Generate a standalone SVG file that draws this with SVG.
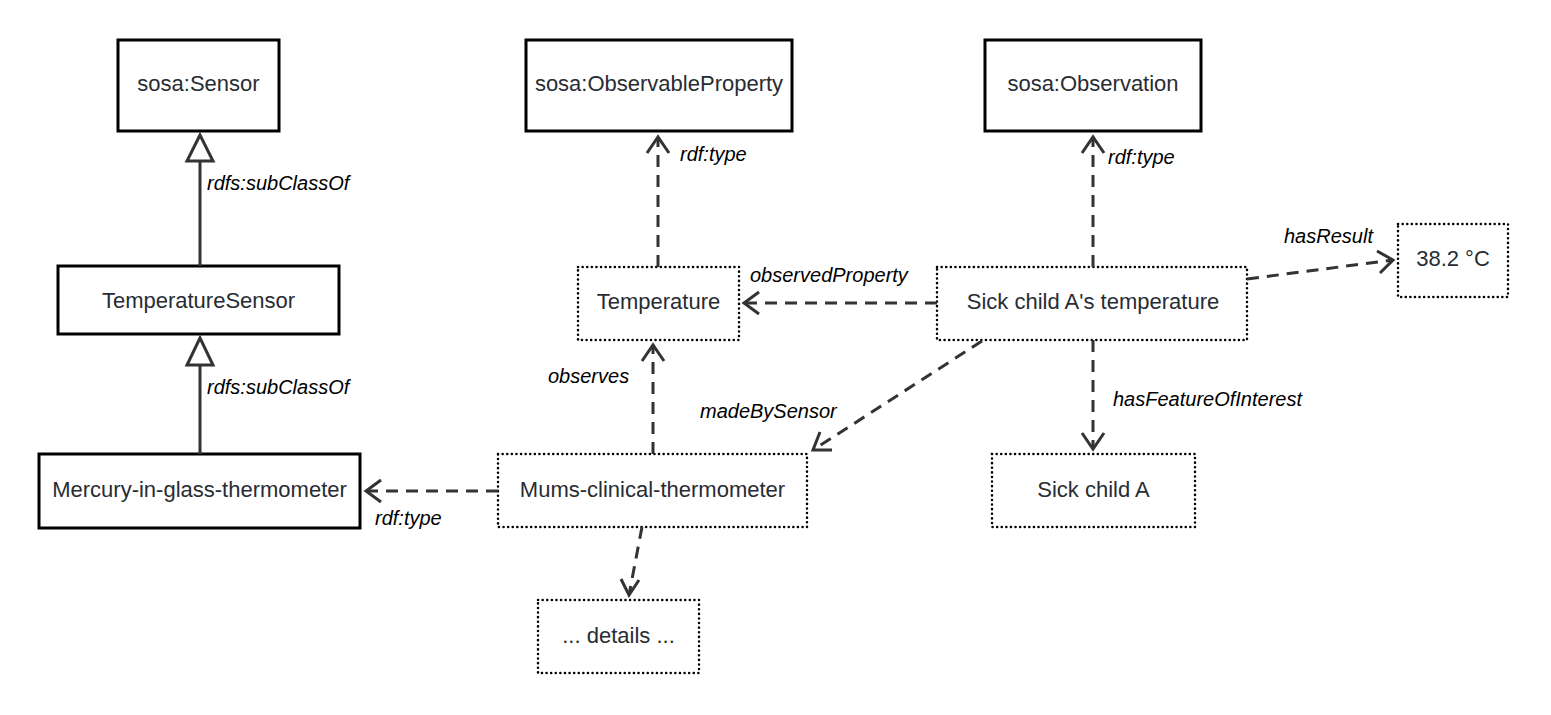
<svg xmlns="http://www.w3.org/2000/svg" width="1551" height="715" viewBox="0 0 1551 715">
<style>
.cls{fill:#fff;stroke:#000;stroke-width:3}
.ind{fill:#fff;stroke:#000;stroke-width:2.5;stroke-dasharray:0.1 4.5;stroke-linecap:round}
.t{font-family:"Liberation Sans",Arial,sans-serif;font-size:22px;fill:#282c33;text-anchor:middle;dominant-baseline:central}
.l{font-family:"Liberation Sans",Arial,sans-serif;font-size:20px;font-style:italic;fill:#000}
.sub{stroke:#333;stroke-width:3;fill:none}
.dash{stroke:#333;stroke-width:3;fill:none;stroke-dasharray:12 8}
.head{stroke:#333;stroke-width:3;fill:none}
.tri{stroke:#333;stroke-width:3;fill:#fff}
</style>
<g id="n-sensor"><rect class="cls" x="118" y="40" width="161" height="91"/><text class="t" x="198.5" y="83">sosa:Sensor</text></g>
<g id="n-tempsensor"><rect class="cls" x="58" y="266" width="281" height="68"/><text class="t" x="198.5" y="300">TemperatureSensor</text></g>
<g id="n-mercury"><rect class="cls" x="39" y="454" width="321" height="74"/><text class="t" x="199.5" y="489">Mercury-in-glass-thermometer</text></g>
<g id="n-obsprop"><rect class="cls" x="526" y="40" width="266" height="91"/><text class="t" x="659" y="83">sosa:ObservableProperty</text></g>
<g id="n-observation"><rect class="cls" x="985" y="40" width="216" height="91"/><text class="t" x="1093" y="83">sosa:Observation</text></g>
<g id="n-temperature"><rect class="ind" x="578" y="267" width="161" height="73"/><text class="t" x="658.5" y="301">Temperature</text></g>
<g id="n-sicktemp"><rect class="ind" x="937" y="267" width="310" height="73"/><text class="t" x="1093" y="301">Sick child A's temperature</text></g>
<g id="n-result"><rect class="ind" x="1398" y="224" width="110" height="73"/><text class="t" x="1453" y="258">38.2 °C</text></g>
<g id="n-sickchild"><rect class="ind" x="992" y="454" width="203" height="73"/><text class="t" x="1093.5" y="489">Sick child A</text></g>
<g id="n-mums"><rect class="ind" x="498" y="454" width="309" height="73"/><text class="t" x="652.5" y="489">Mums-clinical-thermometer</text></g>
<g id="n-details"><rect class="ind" x="538" y="600" width="161" height="73"/><text class="t" x="618.5" y="635">... details ...</text></g>
<g id="connectors">
<line class="sub" x1="200" y1="266" x2="200" y2="161"/>
<polygon class="tri" points="200,135 187,161 213,161"/>
<text class="l" x="207" y="190">rdfs:subClassOf</text>
<line class="sub" x1="200" y1="454" x2="200" y2="365"/>
<polygon class="tri" points="200,338 187,365 213,365"/>
<text class="l" x="207" y="394">rdfs:subClassOf</text>
<line class="dash" x1="658" y1="267" x2="658" y2="137"/>
<polyline class="head" points="647,153 658,137 669,153"/>
<text class="l" x="680" y="161">rdf:type</text>
<line class="dash" x1="1093" y1="267" x2="1093" y2="137"/>
<polyline class="head" points="1082,153 1093,137 1104,153"/>
<text class="l" x="1108" y="164">rdf:type</text>
<line class="dash" x1="937" y1="303" x2="744" y2="303"/>
<polyline class="head" points="759,292 744,303 759,314"/>
<text class="l" x="750" y="282">observedProperty</text>
<line class="dash" x1="1247" y1="279" x2="1393" y2="260"/>
<polyline class="head" points="1377,251 1393,260 1380,273"/>
<text class="l" x="1284" y="243">hasResult</text>
<line class="dash" x1="653" y1="454" x2="653" y2="345"/>
<polyline class="head" points="642,361 653,345 664,361"/>
<text class="l" x="548" y="383">observes</text>
<line class="dash" x1="982" y1="341" x2="813" y2="450"/>
<polyline class="head" points="820,432 813,450 832,450"/>
<text class="l" x="700" y="418">madeBySensor</text>
<line class="dash" x1="1093" y1="340" x2="1093" y2="449"/>
<polyline class="head" points="1082,433 1093,449 1104,433"/>
<text class="l" x="1113" y="406">hasFeatureOfInterest</text>
<line class="dash" x1="498" y1="491" x2="366" y2="491"/>
<polyline class="head" points="381,480 366,491 381,502"/>
<text class="l" x="375" y="525">rdf:type</text>
<line class="dash" x1="642" y1="527" x2="629" y2="595"/>
<polyline class="head" points="621,579 629,595 639,580"/>
</g>
</svg>
